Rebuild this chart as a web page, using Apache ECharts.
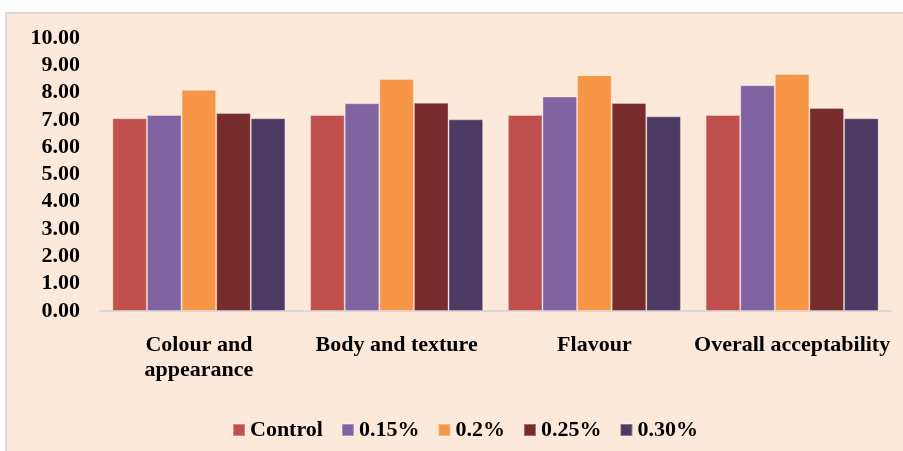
<!DOCTYPE html>
<html>
<head>
<meta charset="utf-8">
<script src="https://cdn.jsdelivr.net/npm/echarts@6/dist/echarts.min.js"></script>
<style>
html,body{margin:0;padding:0;background:#ffffff;}
#chart{width:903px;height:451px;}
</style>
</head>
<body>
<div id="chart"></div>
<script>
const categories = ['Colour and\nappearance', 'Body and texture', 'Flavour', 'Overall acceptability'];
const seriesNames = ['Control', '0.15%', '0.2%', '0.25%', '0.30%'];
const control = [7.06, 7.18, 7.18, 7.18];
const p015 = [7.18, 7.61, 7.86, 8.27];
const p02 = [8.10, 8.50, 8.64, 8.68];
const p025 = [7.25, 7.63, 7.62, 7.44];
const p030 = [7.06, 7.02, 7.13, 7.06];
const yTicks = [0, 10, 1];

const colors = ['#C0504D', '#8064A2', '#F79646', '#772B2B', '#4B3A62'];
const values = [control, p015, p02, p025, p030];
const font = "'Liberation Serif','Times New Roman',serif";

const chart = echarts.init(document.getElementById('chart'));
chart.setOption({
  backgroundColor: '#ffffff',
  animation: false,
  color: colors,
  graphic: [
    {type: 'rect', shape: {x: 5, y: 12, width: 900, height: 441}, style: {fill: '#D9D9D9'}, z: -10, silent: true},
    {type: 'rect', shape: {x: 7, y: 14, width: 898, height: 439}, style: {fill: '#FDE9D9'}, z: -9, silent: true}
  ],
  grid: {left: 100, right: 12, top: 38, bottom: 140, containLabel: false},
  legend: {
    left: 227, top: 413,
    itemWidth: 12, itemHeight: 12, itemGap: 18,
    icon: 'rect',
    textStyle: {fontFamily: font, fontWeight: 'bold', fontSize: 22, color: '#000', lineHeight: 24},
    data: seriesNames
  },
  xAxis: {
    type: 'category',
    data: categories,
    axisTick: {show: false},
    axisLine: {lineStyle: {color: '#D9D9D9', width: 2}},
    axisLabel: {interval: 0, margin: 22, fontFamily: font, fontWeight: 'bold', fontSize: 22, color: '#000', lineHeight: 25}
  },
  yAxis: {
    type: 'value',
    min: yTicks[0], max: yTicks[1], interval: yTicks[2],
    splitLine: {show: false},
    axisLine: {show: false},
    axisTick: {show: false},
    axisLabel: {margin: 20, fontFamily: font, fontWeight: 'bold', fontSize: 22, color: '#000', formatter: v => v.toFixed(2)}
  },
  series: seriesNames.map((n, i) => ({
    name: n,
    type: 'bar',
    data: values[i],
    barGap: '0%',
    barCategoryGap: '12.5%',
    itemStyle: {color: colors[i], borderColor: 'rgba(255,255,255,0.3)', borderWidth: 1}
  }))
});
</script>
</body>
</html>
